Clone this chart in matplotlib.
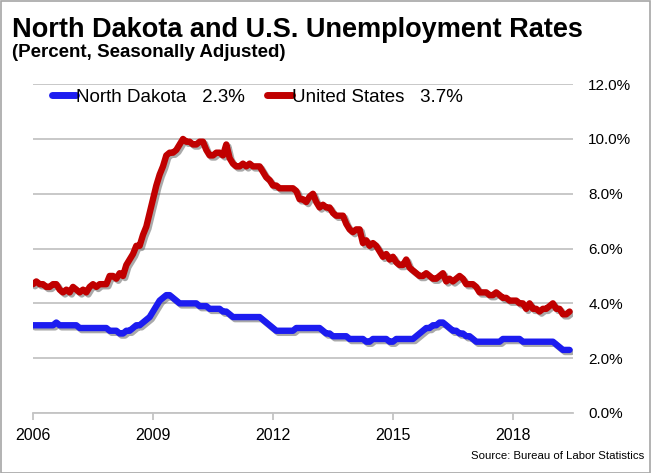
import numpy as np
import matplotlib
matplotlib.use("Agg")
import matplotlib.pyplot as plt
import matplotlib.patheffects as pe

plt.rcParams["font.family"] = ["Liberation Sans", "DejaVu Sans"]

# Monthly unemployment rates, Jan 2006 - Jun 2019

nd_rate = [
    3.2, 3.2, 3.2, 3.2, 3.2, 3.2, 3.2, 3.3, 3.2, 3.2, 3.2, 3.2,  # 2006
    3.2, 3.2, 3.1, 3.1, 3.1, 3.1, 3.1, 3.1, 3.1, 3.1, 3.1, 3.0,  # 2007
    3.0, 3.0, 2.9, 2.9, 3.0, 3.0, 3.1, 3.2, 3.2, 3.3, 3.4, 3.5,  # 2008
    3.7, 3.9, 4.1, 4.2, 4.3, 4.3, 4.2, 4.1, 4.0, 4.0, 4.0, 4.0,  # 2009
    4.0, 4.0, 3.9, 3.9, 3.9, 3.8, 3.8, 3.8, 3.8, 3.7, 3.7, 3.6,  # 2010
    3.5, 3.5, 3.5, 3.5, 3.5, 3.5, 3.5, 3.5, 3.5, 3.4, 3.3, 3.2,  # 2011
    3.1, 3.0, 3.0, 3.0, 3.0, 3.0, 3.0, 3.1, 3.1, 3.1, 3.1, 3.1,  # 2012
    3.1, 3.1, 3.1, 3.0, 2.9, 2.9, 2.8, 2.8, 2.8, 2.8, 2.8, 2.7,  # 2013
    2.7, 2.7, 2.7, 2.7, 2.6, 2.6, 2.7, 2.7, 2.7, 2.7, 2.7, 2.6,  # 2014
    2.6, 2.7, 2.7, 2.7, 2.7, 2.7, 2.7, 2.8, 2.9, 3.0, 3.1, 3.1,  # 2015
    3.2, 3.2, 3.3, 3.3, 3.2, 3.1, 3.0, 3.0, 2.9, 2.9, 2.8, 2.8,  # 2016
    2.7, 2.6, 2.6, 2.6, 2.6, 2.6, 2.6, 2.6, 2.6, 2.7, 2.7, 2.7,  # 2017
    2.7, 2.7, 2.7, 2.6, 2.6, 2.6, 2.6, 2.6, 2.6, 2.6, 2.6, 2.6,  # 2018
    2.6, 2.5, 2.4, 2.3, 2.3, 2.3,                                # 2019
]

us_rate = [
    4.7, 4.8, 4.7, 4.7, 4.6, 4.6, 4.7, 4.7, 4.5, 4.4, 4.5, 4.4,  # 2006
    4.6, 4.5, 4.4, 4.5, 4.4, 4.6, 4.7, 4.6, 4.7, 4.7, 4.7, 5.0,  # 2007
    5.0, 4.9, 5.1, 5.0, 5.4, 5.6, 5.8, 6.1, 6.1, 6.5, 6.8, 7.3,  # 2008
    7.8, 8.3, 8.7, 9.0, 9.4, 9.5, 9.5, 9.6, 9.8, 10.0, 9.9, 9.9,  # 2009
    9.8, 9.8, 9.9, 9.9, 9.6, 9.4, 9.4, 9.5, 9.5, 9.4, 9.8, 9.3,  # 2010
    9.1, 9.0, 9.0, 9.1, 9.0, 9.1, 9.0, 9.0, 9.0, 8.8, 8.6, 8.5,  # 2011
    8.3, 8.3, 8.2, 8.2, 8.2, 8.2, 8.2, 8.1, 7.8, 7.8, 7.7, 7.9,  # 2012
    8.0, 7.7, 7.5, 7.6, 7.5, 7.5, 7.3, 7.2, 7.2, 7.2, 6.9, 6.7,  # 2013
    6.6, 6.7, 6.7, 6.2, 6.3, 6.1, 6.2, 6.1, 5.9, 5.7, 5.8, 5.6,  # 2014
    5.7, 5.5, 5.4, 5.4, 5.6, 5.3, 5.2, 5.1, 5.0, 5.0, 5.1, 5.0,  # 2015
    4.9, 4.9, 5.0, 5.1, 4.8, 4.9, 4.8, 4.9, 5.0, 4.9, 4.7, 4.7,  # 2016
    4.7, 4.6, 4.4, 4.4, 4.4, 4.3, 4.3, 4.4, 4.3, 4.2, 4.2, 4.1,  # 2017
    4.1, 4.1, 4.0, 4.0, 3.8, 4.0, 3.8, 3.8, 3.7, 3.8, 3.8, 3.9,  # 2018
    4.0, 3.8, 3.8, 3.6, 3.6, 3.7,                                # 2019
]

year_ticks = [2006, 2009, 2012, 2015, 2018]
pct_ticks = [0, 2, 4, 6, 8, 10, 12]

nd_label = "North Dakota   2.3%"
us_label = "United States   3.7%"

months = 2006 + np.arange(len(us_rate)) / 12.0

fig = plt.figure(figsize=(6.51, 4.73), dpi=100)
ax = fig.add_axes([0.0507, 0.127, 0.8293, 0.695])

shadow = [
    pe.SimpleLineShadow(offset=(1.5, -1.5), shadow_color="#555555", alpha=0.5),
    pe.Normal(),
]

ax.plot(months, nd_rate, color="#1C1CF0", linewidth=4.6,
        solid_capstyle="round", path_effects=shadow, label=nd_label, zorder=3)
ax.plot(months, us_rate, color="#C00000", linewidth=4.6,
        solid_capstyle="round", path_effects=shadow, label=us_label, zorder=3)

ax.set_xlim(2006, 2019.5)
ax.set_ylim(0, 12)

ax.set_xticks(year_ticks)
ax.set_xticklabels([str(y) for y in year_ticks], fontsize=11.5)
ax.set_yticks(pct_ticks)
ax.set_yticklabels([f"{v:.1f}%" for v in pct_ticks], fontsize=11)

ax.yaxis.tick_right()
ax.tick_params(axis="y", length=0, pad=11)
ax.tick_params(axis="x", direction="out", length=5, width=1.2,
               color="#BFBFBF", pad=6)

ax.grid(axis="y", color="#C4C4C4", linewidth=1.3)
ax.set_axisbelow(True)

for side in ["top", "left", "right"]:
    ax.spines[side].set_visible(False)
ax.spines["bottom"].set_color("#C4C4C4")
ax.spines["bottom"].set_linewidth(1.3)

leg = ax.legend(
    loc="center left",
    bbox_to_anchor=(0.065, 0.795),
    bbox_transform=fig.transFigure,
    ncol=2,
    frameon=False,
    fontsize=13.5,
    handlelength=1.3,
    handletextpad=0.0,
    columnspacing=1.2,
    borderpad=0,
)
for line in leg.get_lines():
    line.set_linewidth(5)
    line.set_path_effects([])

fig.text(0.018, 0.965, "North Dakota and U.S. Unemployment Rates",
         fontsize=19.5, fontweight="bold", va="top", ha="left")
fig.text(0.018, 0.908, "(Percent, Seasonally Adjusted)",
         fontsize=13.5, fontweight="bold", va="top", ha="left")
fig.text(0.99, 0.025, "Source: Bureau of Labor Statistics",
         fontsize=8.2, ha="right", va="bottom")

fig.patches.append(plt.Rectangle((0.001, 0.001), 0.997, 0.997,
                                 transform=fig.transFigure, fill=False,
                                 edgecolor="#A6A6A6", linewidth=1.2))

plt.savefig("out.png", dpi=100)
plt.close()
